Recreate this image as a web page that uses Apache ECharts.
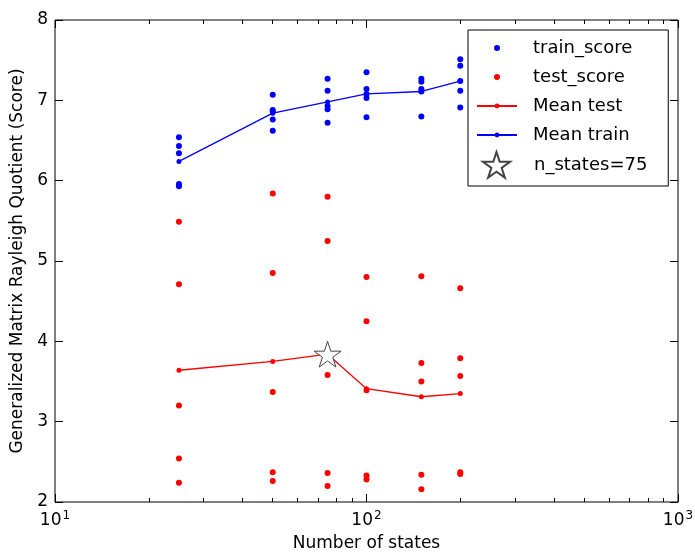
<!DOCTYPE html>
<html>
<head>
<meta charset="utf-8">
<script src="https://cdn.jsdelivr.net/npm/echarts@6/dist/echarts.min.js"></script>
<style>
  html, body { margin: 0; padding: 0; background: #fff; }
</style>
</head>
<body>
<div id="myChart" style="width: 695px;height:552px;"></div>
<script>
// number of states on the x axis
var nStates = [25, 50, 75, 100, 150, 200];
// per-fold scores, one list for each n_states value
var trainScores = [
  [6.54, 6.43, 6.34, 5.96, 5.93],
  [7.07, 6.88, 6.86, 6.76, 6.62],
  [7.27, 7.12, 6.93, 6.89, 6.72],
  [7.35, 7.14, 7.08, 7.03, 6.79],
  [7.27, 7.23, 7.14, 7.11, 6.80],
  [7.51, 7.43, 7.24, 7.12, 6.91]
];
var testScores = [
  [5.49, 4.71, 3.20, 2.54, 2.24],
  [5.84, 4.85, 3.37, 2.37, 2.26],
  [5.80, 5.25, 3.58, 2.36, 2.20],
  [4.80, 4.25, 3.39, 2.33, 2.28],
  [4.81, 3.73, 3.50, 2.34, 2.16],
  [4.66, 3.79, 3.57, 2.37, 2.35]
];
var meanTrain = [6.24, 6.84, 6.98, 7.08, 7.11, 7.24];
var meanTest = [3.64, 3.75, 3.84, 3.41, 3.31, 3.35];
var bestState = 75;
var bestScore = 3.84;
var yTicks = [2, 3, 4, 5, 6, 7, 8];
var minorTicks = [20, 30, 40, 50, 60, 70, 80, 90, 200, 300, 400, 500, 600, 700, 800, 900];

var FONT = 'DejaVu Sans';
var starPath = 'path://M100,0L122.45,69.1L195.11,69.1L136.33,111.8L158.78,180.9L100,138.2L41.22,180.9L63.67,111.8L4.89,69.1L77.55,69.1Z';

// 把每组的分数展开成 [x, y] 点
function toPoints(scores) {
  var pts = [];
  nStates.forEach(function (n, i) {
    scores[i].forEach(function (s) { pts.push([n, s]); });
  });
  return pts;
}
function pair(vals) {
  return nStates.map(function (n, i) { return [n, vals[i]]; });
}

function logAxis(pos, showLabel, ticks, len) {
  var ax = {
    type: 'log', logBase: 10, min: 10, max: 1000, position: pos,
    axisLine: { show: false },
    splitLine: { show: false },
    axisTick: { show: true, inside: true, length: len, lineStyle: { color: '#000', width: 1 } },
    axisLabel: { show: false }
  };
  if (ticks) ax.axisTick.customValues = ticks;
  if (showLabel) {
    ax.name = 'Number of states';
    ax.nameLocation = 'middle';
    ax.nameGap = 33;
    ax.nameTextStyle = { fontFamily: FONT, fontSize: 17, color: '#000' };
    ax.axisLabel = {
      show: true, margin: 8, color: '#000', fontFamily: FONT, fontSize: 17,
      formatter: function (v) {
        return '10{sup|' + Math.round(Math.log10(v)) + '}';
      },
      rich: { sup: { fontSize: 12, fontFamily: FONT, color: '#000', padding: [0, 0, 9, 1] } }
    };
  }
  return ax;
}

function valAxis(pos, showLabel) {
  var ax = {
    type: 'value', min: yTicks[0], max: yTicks[yTicks.length - 1], interval: 1, position: pos,
    axisLine: { show: false },
    splitLine: { show: false },
    axisTick: { show: true, inside: true, length: 8, lineStyle: { color: '#000' } },
    axisLabel: { show: false }
  };
  if (showLabel) {
    ax.name = 'Generalized Matrix Rayleigh Quotient (Score)';
    ax.nameLocation = 'middle';
    ax.nameGap = 27;
    ax.nameTextStyle = { fontFamily: FONT, fontSize: 17, color: '#000' };
    ax.axisLabel = { show: true, margin: 7, color: '#000', fontFamily: FONT, fontSize: 17 };
  }
  return ax;
}

const myChart = echarts.init(document.getElementById('myChart'));
const option = {
  animation: false,
  backgroundColor: '#fff',
  grid: {
    left: 55, right: 17, top: 20, bottom: 50,
    outerBoundsMode: 'none',
    show: true, borderColor: '#000', borderWidth: 1, backgroundColor: 'transparent'
  },
  legend: [
    {
      data: ['train_score', 'test_score', 'Mean test', 'Mean train'],
      orient: 'vertical', left: 468, top: 30,
      itemWidth: 40, itemHeight: 6, itemGap: 9,
      padding: [8, 36, 41, 8],
      borderColor: '#000', borderWidth: 1, backgroundColor: '#fff',
      textStyle: { fontFamily: FONT, fontSize: 18, color: '#000', lineHeight: 20, padding: [0, 0, 0, 11] },
      selectedMode: false
    },
    {
      data: ['n_states=75'],
      orient: 'vertical', left: 468, top: 151,
      itemWidth: 27, itemHeight: 26,
      padding: [0, 0, 0, 14],
      textStyle: { fontFamily: FONT, fontSize: 18, color: '#000', padding: [0, 0, 0, 19] },
      selectedMode: false
    }
  ],
  xAxis: [
    logAxis('bottom', true, null, 8),
    logAxis('top', false, null, 8),
    logAxis('bottom', false, minorTicks, 4),
    logAxis('top', false, minorTicks, 4)
  ],
  yAxis: [
    valAxis('left', true),
    valAxis('right', false)
  ],
  series: [
    {
      name: 'train_score', type: 'scatter', data: toPoints(trainScores),
      symbol: 'circle', symbolSize: 6, itemStyle: { color: '#0000ff', opacity: 1 }, z: 2
    },
    {
      name: 'test_score', type: 'scatter', data: toPoints(testScores),
      symbol: 'circle', symbolSize: 6, itemStyle: { color: '#ff0000', opacity: 1 }, z: 2
    },
    {
      name: 'Mean test', type: 'line', data: pair(meanTest),
      symbol: 'circle', symbolSize: 5, showSymbol: true,
      lineStyle: { color: '#ff0000', width: 1.3 }, itemStyle: { color: '#ff0000' }, z: 3
    },
    {
      name: 'Mean train', type: 'line', data: pair(meanTrain),
      symbol: 'circle', symbolSize: 5, showSymbol: true,
      lineStyle: { color: '#0000ff', width: 1.3 }, itemStyle: { color: '#0000ff' }, z: 3
    },
    {
      name: 'n_states=75', type: 'scatter', data: [[bestState, bestScore]],
      symbol: starPath, symbolSize: 27, symbolKeepAspect: true,
      itemStyle: { color: '#fff', borderColor: '#444', borderWidth: 1, opacity: 1 }, z: 5
    }
  ]
};
myChart.setOption(option);
</script>
</body>
</html>
